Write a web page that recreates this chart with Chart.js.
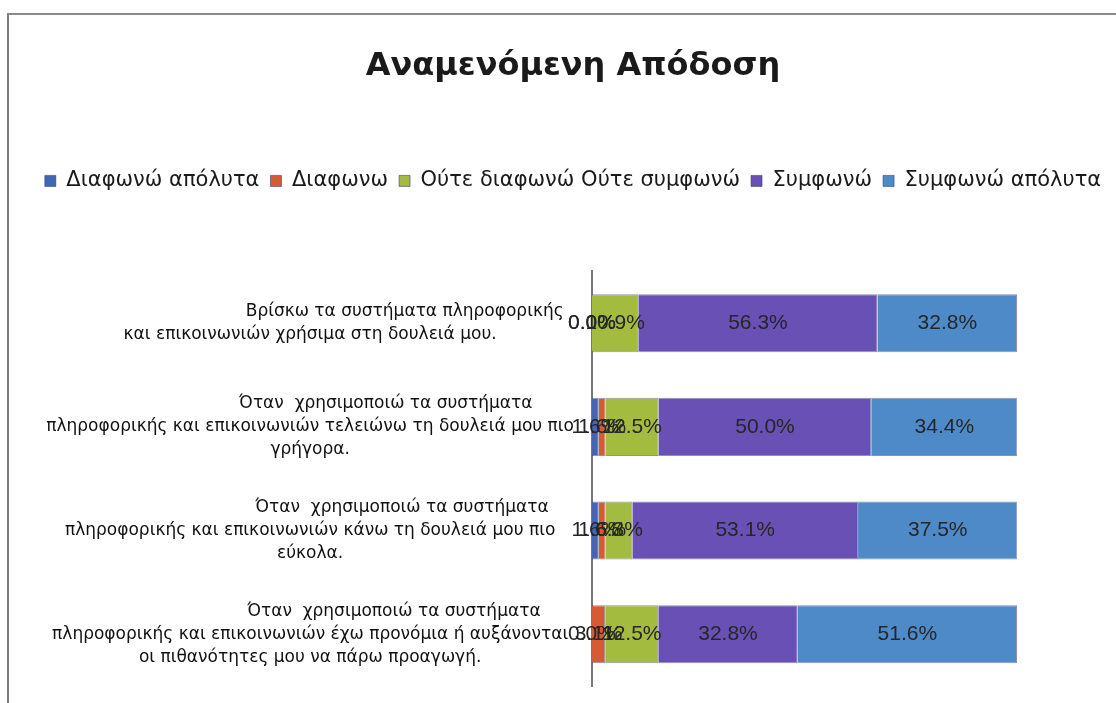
<!DOCTYPE html>
<html>
<head>
<meta charset="utf-8">
<script src="https://cdn.jsdelivr.net/npm/chart.js@4.4.1/dist/chart.umd.min.js"></script>
<style>
    body { margin: 0; background: #fff; }
    #frame {
        position: absolute; left: 7px; top: 13px; width: 1200px; height: 800px;
        border-left: 2px solid #7a7a7a; border-top: 2px solid #8a8a8a;
    }
    #wrap { position: absolute; left: 0; top: 0; width: 1116px; height: 703px; }
</style>
</head>
<body>
<div id="frame"></div>
<div id="wrap"><canvas id="performanceChart" width="1116" height="703"></canvas></div>
<script>
// Statements (y axis), first line pushed right like the original layout
const pad = n => ' '.repeat(n);
const statements = [
    [pad(35) + 'Βρίσκω τα συστήματα πληροφορικής', 'και επικοινωνιών χρήσιμα στη δουλειά μου.'],
    [pad(28) + 'Όταν  χρησιμοποιώ τα συστήματα', 'πληροφορικής και επικοινωνιών τελειώνω τη δουλειά μου πιο', 'γρήγορα.'],
    [pad(34) + 'Όταν  χρησιμοποιώ τα συστήματα', 'πληροφορικής και επικοινωνιών κάνω τη δουλειά μου πιο', 'εύκολα.'],
    [pad(31) + 'Όταν  χρησιμοποιώ τα συστήματα', 'πληροφορικής και επικοινωνιών έχω προνόμια ή αυξάνονται', 'οι πιθανότητες μου να πάρω προαγωγή.']
];

const seriesNames = ['Διαφωνώ απόλυτα', 'Διαφωνω', 'Ούτε διαφωνώ Ούτε συμφωνώ', 'Συμφωνώ', 'Συμφωνώ απόλυτα'];

// Percentages per answer
const stronglyDisagree = [0.0, 1.6, 1.6, 0.0];
const disagree = [0.0, 1.6, 1.6, 3.1];
const neutral = [10.9, 12.5, 6.3, 12.5];
const agree = [56.3, 50.0, 53.1, 32.8];
const stronglyAgree = [32.8, 34.4, 37.5, 51.6];

const seriesColors = ['#4066b4', '#d85a35', '#a3bb3e', '#6850b4', '#4f8ac8'];

const values = [stronglyDisagree, disagree, neutral, agree, stronglyAgree];

// Percent labels in the middle of every segment
const segmentLabels = {
    id: 'segmentLabels',
    afterDatasetsDraw(chart) {
        const ctx = chart.ctx;
        ctx.save();
        ctx.font = '21px "Liberation Sans"';
        ctx.fillStyle = '#262626';
        ctx.textAlign = 'center';
        ctx.textBaseline = 'middle';
        chart.data.datasets.forEach((ds, i) => {
            chart.getDatasetMeta(i).data.forEach((bar, j) => {
                const { x, y, base } = bar.getProps(['x', 'y', 'base'], true);
                ctx.fillText(ds.data[j].toFixed(1) + '%', (x + base) / 2, y);
            });
        });
        ctx.restore();
    }
};

// Extra room between legend and plot
const legendGap = {
    id: 'legendGap',
    beforeInit(chart) {
        const fit = chart.legend.fit;
        chart.legend.fit = function () {
            fit.call(this);
            this.height += 70;
        };
    }
};

new Chart(document.getElementById('performanceChart').getContext('2d'), {
    type: 'bar',
    data: {
        labels: statements,
        datasets: seriesNames.map((name, i) => ({
            label: name,
            data: values[i],
            backgroundColor: seriesColors[i],
            borderColor: 'rgba(45,55,110,0.55)',
            borderWidth: 1,
            barPercentage: 0.7,
            categoryPercentage: 0.8
        }))
    },
    options: {
        indexAxis: 'y',
        responsive: false,
        animation: false,
        layout: { padding: { left: 30, right: 0, top: 0, bottom: 17 } },
        scales: {
            x: { stacked: true, min: 0, max: 100, display: false },
            y: {
                stacked: true,
                grid: { display: false },
                border: { color: '#777', width: 2 },
                afterFit: s => {
                    s.width = 562;
                    // multi-line labels should not shrink the plot
                    s.paddingTop = 0;
                    s.paddingBottom = 0;
                },
                ticks: {
                    crossAlign: 'center',
                    padding: 10,
                    color: '#111',
                    font: { family: 'DejaVu Sans', size: 17, lineHeight: 1.35 }
                }
            },
            // empty strip on the right of the bars
            spacer: {
                type: 'category',
                position: 'right',
                grid: { display: false },
                border: { display: false },
                ticks: { display: false },
                afterFit: s => { s.width = 99; }
            }
        },
        plugins: {
            title: {
                display: true,
                text: 'Αναμενόμενη Απόδοση',
                color: '#1a1a1a',
                font: { family: 'DejaVu Sans', size: 32, weight: 'bold' },
                padding: { top: 47, bottom: 74 }
            },
            legend: {
                position: 'top',
                labels: {
                    boxWidth: 11,
                    boxHeight: 11,
                    padding: 11,
                    color: '#1a1a1a',
                    font: { family: 'DejaVu Sans', size: 21 }
                }
            },
            tooltip: { enabled: false }
        }
    },
    plugins: [segmentLabels, legendGap]
});
</script>
</body>
</html>
